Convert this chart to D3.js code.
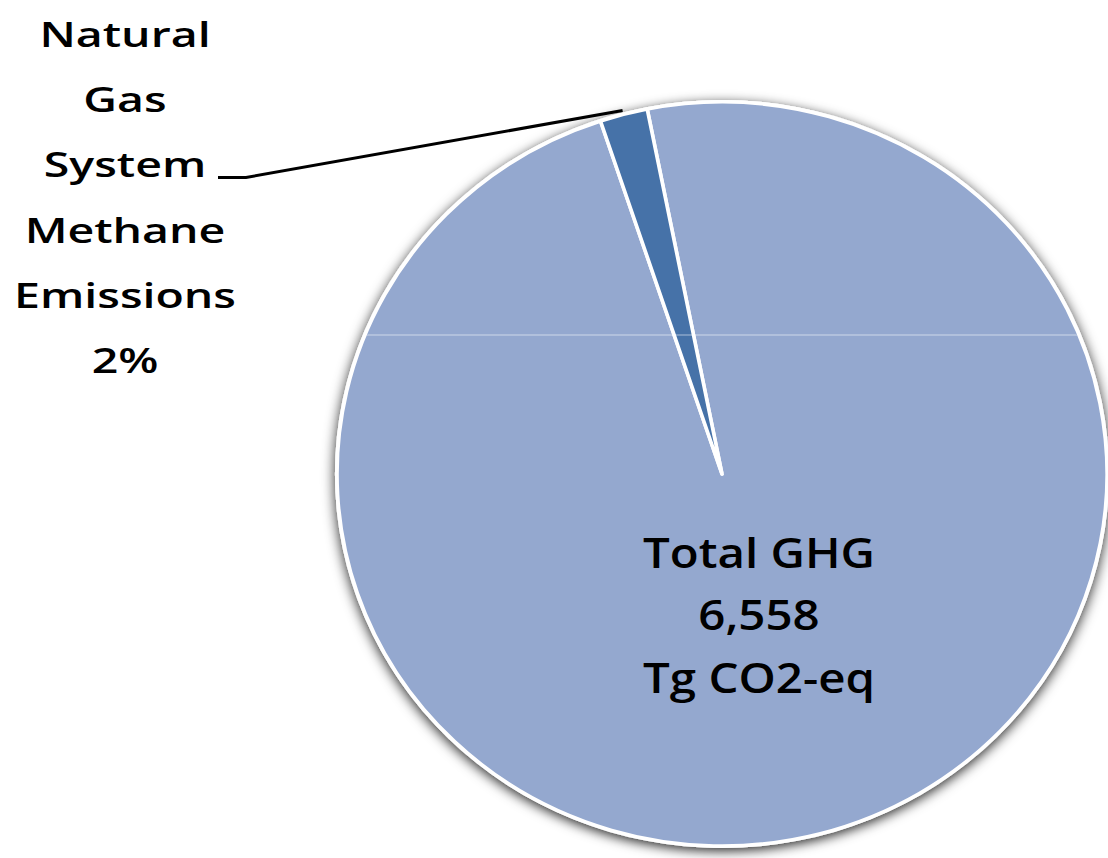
<!DOCTYPE html>
<html>
<head>
<meta charset="utf-8">
<script src="https://cdn.jsdelivr.net/npm/d3@7"></script>
<style>
  html, body { margin: 0; padding: 0; background: #ffffff; }
  svg { display: block; }
  text { font-family: "Open Sans", Lato, sans-serif; font-weight: 600; fill: #000; }
</style>
</head>
<body>
<svg id="chart" width="1108" height="858"></svg>
<script>
// Share of total US greenhouse gas emissions (percent)
const categories = ["Total GHG", "Natural Gas System Methane Emissions"];
const shares = [98, 2];
const colors = ["#94a8cf", "#4672a8"];
const totalLabel = ["Total GHG", "6,558", "Tg CO2-eq"];
const sliceLabel = ["Natural", "Gas", "System", "Methane", "Emissions", "2%"];

const svg = d3.select("#chart");
const cx = 722, cy = 474, R = 372, xStretch = 385 / 372;

const defs = svg.append("defs");
const shadow = defs.append("filter").attr("id", "shadow")
  .attr("x", "-10%").attr("y", "-10%").attr("width", "120%").attr("height", "120%");
shadow.append("feDropShadow")
  .attr("dx", 0).attr("dy", 3).attr("stdDeviation", 6)
  .attr("flood-color", "#000").attr("flood-opacity", 0.85);

const deg = Math.PI / 180;
const pie = d3.pie().sort(null).value(d => d)
  .startAngle(-11.2 * deg).endAngle((360 - 11.2) * deg);
const arcs = pie(shares);
const arc = d3.arc().innerRadius(0).outerRadius(R);

const g = svg.append("g")
  .attr("transform", `translate(${cx},${cy}) scale(${xStretch},1)`);

// soft shadow behind the whole pie
g.append("circle").attr("r", R + 2).attr("fill", "#ffffff")
  .attr("filter", "url(#shadow)");

g.selectAll("path.slice").data(arcs).join("path")
  .attr("class", "slice")
  .attr("d", arc)
  .attr("fill", (d, i) => colors[i])
  .attr("stroke", "#ffffff")
  .attr("stroke-width", 3.5)
  .attr("stroke-linejoin", "round");

// faint horizontal seam across the pie
const clip = defs.append("clipPath").attr("id", "pieClip");
clip.append("circle").attr("r", R - 2);
g.append("line")
  .attr("clip-path", "url(#pieClip)")
  .attr("x1", -R).attr("x2", R).attr("y1", 335 - cy).attr("y2", 335 - cy)
  .attr("stroke", "#ffffff").attr("stroke-opacity", 0.55).attr("stroke-width", 1.2);

// leader line from the small slice to its label
const small = arcs[1];
const mid = (small.startAngle + small.endAngle) / 2;
const ex = cx + Math.sin(mid) * (R + 4) * xStretch;
const ey = cy - Math.cos(mid) * (R + 4);
svg.append("path")
  .attr("d", `M218,177.5 L246,177.5 L${ex},${ey}`)
  .attr("fill", "none").attr("stroke", "#000").attr("stroke-width", 3);

// multi-line centred label, widened horizontally so that one line fits a given width
function label(lines, x, y0, step, size, refLine, refWidth) {
  const t = svg.append("text")
    .attr("text-anchor", "middle")
    .attr("font-size", size);
  t.selectAll("tspan").data(lines).join("tspan")
    .attr("x", 0)
    .attr("y", (d, i) => y0 + i * step)
    .text(d => d);
  const w = t.selectAll("tspan").nodes()[refLine].getComputedTextLength();
  t.attr("transform", `translate(${x},0) scale(${refWidth / w},1)`);
}

// outside label for the methane slice
label(sliceLabel, 125, 47, 65.2, 35, 4, 222);

// inside label for the total
label(totalLabel, 759, 568, 62.5, 42, 0, 232);
</script>
</body>
</html>
